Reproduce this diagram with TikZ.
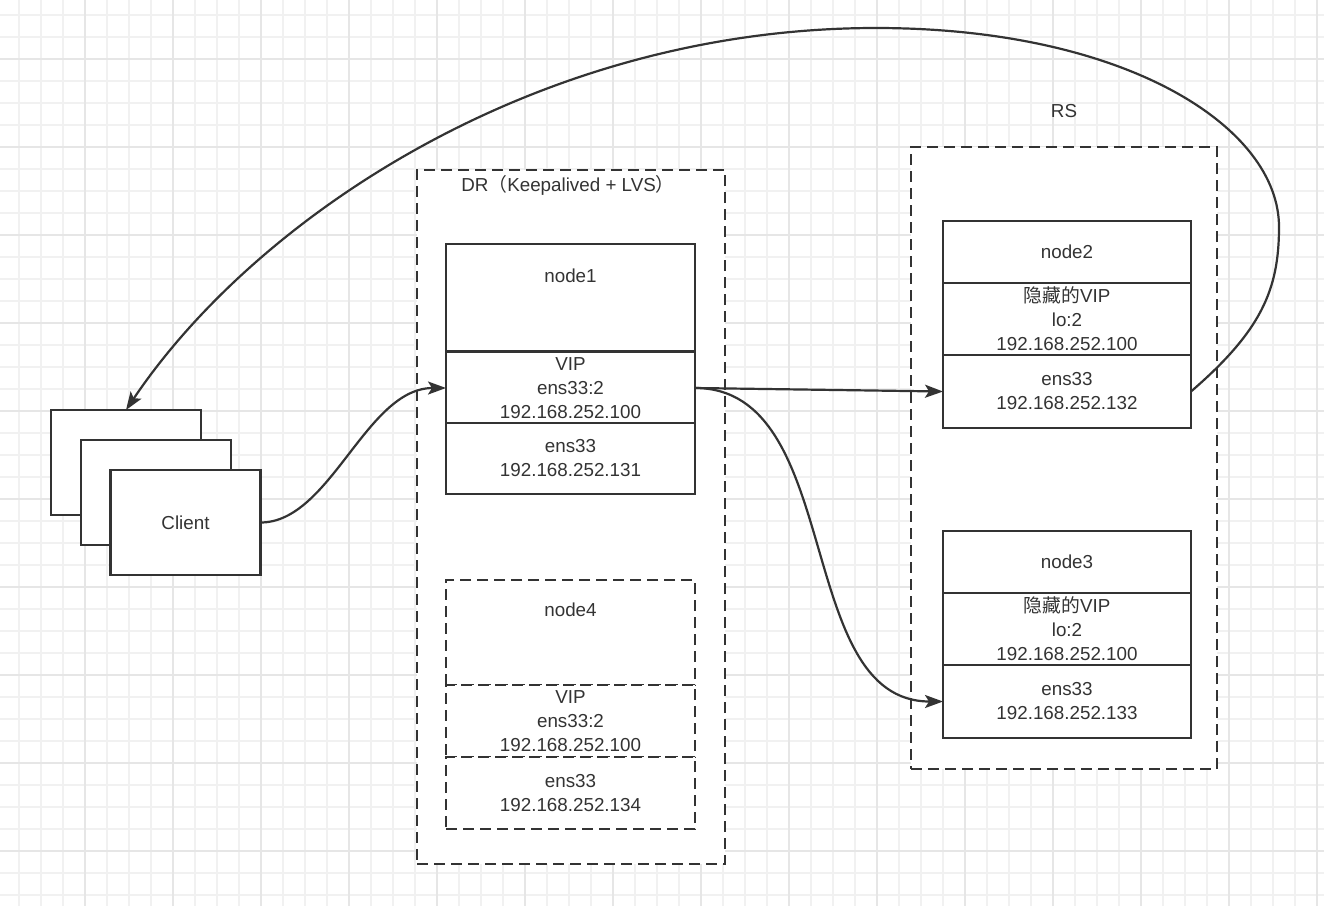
\documentclass[tikz,border=0pt]{standalone}
\usepackage{fontspec}
\setmainfont{Liberation Sans}
\newfontfamily\cjk{Noto Sans CJK SC}
\usetikzlibrary{arrows.meta}
\definecolor{ink}{HTML}{333333}
\definecolor{gridminor}{HTML}{F1F1F1}
\definecolor{gridmajor}{HTML}{E6E6E6}
\begin{document}
\begin{tikzpicture}[x=1pt,y=-1pt,
  every node/.style={font=\fontsize{18.8}{24}\selectfont, text=ink, inner sep=0pt, outer sep=0pt},
  box/.style={draw=ink, line width=2.4pt, fill=white, align=center},
  dbox/.style={draw=ink, line width=2.4pt, fill=white, align=center, dash pattern=on 11pt off 6pt},
  conn/.style={draw=ink, line width=2.2pt, -{Stealth[length=18pt,width=13pt,inset=4pt]}},
  minorline/.style={draw=gridminor, line width=1.5pt},
  majorline/.style={draw=gridmajor, line width=1.5pt},
]
\useasboundingbox (0,0) rectangle (1324,906);
\fill[white] (0,0) rectangle (1324,906);
% grid
\foreach \i in {0,...,59} \draw[minorline] ({19+22*\i},0) -- ({19+22*\i},906);
\foreach \i in {0,...,40} \draw[minorline] (0,{15+22*\i}) -- (1324,{15+22*\i});
\foreach \i in {0,...,14} \draw[majorline] ({85+88*\i},0) -- ({85+88*\i},906);
\foreach \i in {0,...,9} \draw[majorline] (0,{59+88*\i}) -- (1324,{59+88*\i});

% containers
\node[dbox, minimum width=308pt, minimum height=694pt] (dr) at (571,517) {};
\node (drlabel) at (568,185) {DR{\cjk （}Keepalived + LVS{\cjk ）}};
\node[dbox, minimum width=306pt, minimum height=622pt] (rs) at (1064,458) {};
\node (rslabel) at (1064,111) {RS};

% clients
\node[box, minimum width=150pt, minimum height=105pt] (c1) at (126,462.5) {};
\node[box, minimum width=150pt, minimum height=105pt] (c2) at (156,492.5) {};
\node[box, minimum width=150pt, minimum height=105pt] (c3) at (185.5,522.5) {Client};

% node1
\node[box, minimum width=249pt, minimum height=107pt] (n1a) at (570.5,297.5) {};
\node (n1label) at (570.5,276) {node1};
\node[box, minimum width=249pt, minimum height=72pt] (n1b) at (570.5,388) {VIP\\ens33:2\\192.168.252.100};
\node[box, minimum width=249pt, minimum height=71pt] (n1c) at (570.5,458.5) {ens33\\192.168.252.131};

% node4
\node[dbox, minimum width=249pt, minimum height=105pt] (n4a) at (570.5,632.5) {};
\node (n4label) at (570.5,610) {node4};
\node[dbox, minimum width=249pt, minimum height=72pt] (n4b) at (570.5,721) {VIP\\ens33:2\\192.168.252.100};
\node[dbox, minimum width=249pt, minimum height=72pt] (n4c) at (570.5,793) {ens33\\192.168.252.134};

% node2
\node[box, minimum width=248pt, minimum height=62pt] (n2a) at (1067,252) {node2};
\node[box, minimum width=248pt, minimum height=72pt] (n2b) at (1067,319) {{\cjk 隐藏的}VIP\\lo:2\\192.168.252.100};
\node[box, minimum width=248pt, minimum height=73pt] (n2c) at (1067,391.5) {ens33\\192.168.252.132};

% node3
\node[box, minimum width=248pt, minimum height=62pt] (n3a) at (1067,562) {node3};
\node[box, minimum width=248pt, minimum height=72pt] (n3b) at (1067,629) {{\cjk 隐藏的}VIP\\lo:2\\192.168.252.100};
\node[box, minimum width=248pt, minimum height=73pt] (n3c) at (1067,701.5) {ens33\\192.168.252.133};

% connectors
\draw[conn] (c3.east) .. controls +(70,0) and +(-80,0) .. (n1b.west);
\draw[conn] (n1b.east) -- (n2c.west);
\draw[conn] (n1b.east) .. controls +(150,0) and +(-150,0) .. (n3c.west);
\coordinate (w1) at (1279,227);
\coordinate (w2) at (876,28);
\draw[conn] (n2c.east) .. controls (1261,331) and (1279,290) .. (w1)
  .. controls (1279,127) and (1126,28) .. (w2)
  .. controls (536,28) and (255,218) .. (c1.north);
\end{tikzpicture}
\end{document}
